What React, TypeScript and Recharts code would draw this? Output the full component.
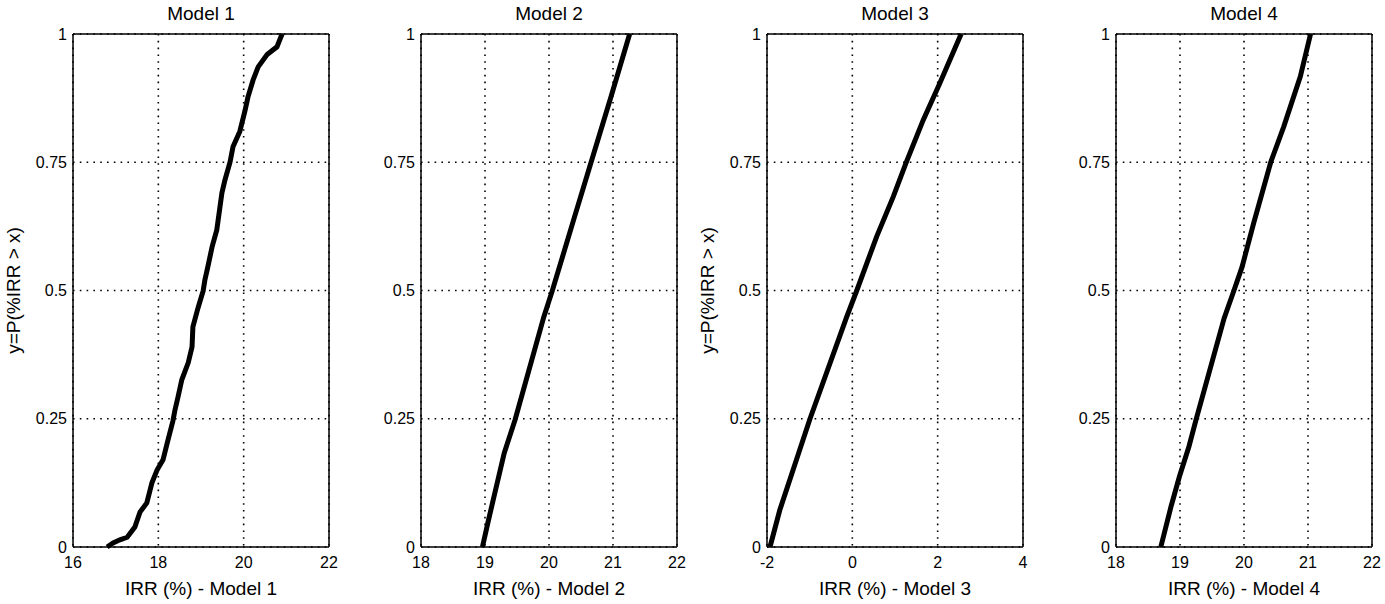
import { LineChart, Line, XAxis, YAxis, CartesianGrid, ReferenceLine } from 'recharts';

// Values (x = IRR %, y = P(%IRR > x))
const model1X = [16.8, 16.94, 17.1, 17.27, 17.45, 17.57, 17.73, 17.85, 17.97, 18.11, 18.23, 18.34, 18.39, 18.46, 18.55, 18.7, 18.79, 18.81, 18.93, 19.05, 19.09, 19.16, 19.26, 19.37, 19.49, 19.56, 19.68, 19.75, 19.91, 20.03, 20.1, 20.22, 20.34, 20.55, 20.78, 20.9];
const model1Y = [0, 0.008, 0.014, 0.019, 0.039, 0.068, 0.086, 0.125, 0.15, 0.17, 0.21, 0.245, 0.267, 0.292, 0.326, 0.359, 0.39, 0.429, 0.466, 0.499, 0.52, 0.546, 0.585, 0.618, 0.69, 0.715, 0.75, 0.78, 0.81, 0.85, 0.877, 0.91, 0.936, 0.96, 0.975, 1];

const model2X = [18.96, 19.05, 19.14, 19.3, 19.47, 19.92, 20.05, 20.4, 20.66, 20.97, 21.26];
const model2Y = [0, 0.05, 0.098, 0.183, 0.248, 0.449, 0.499, 0.644, 0.751, 0.878, 1];

const model3X = [-1.93, -1.7, -1.31, -1.0, -0.13, 0.1, 0.57, 0.96, 1.27, 1.66, 2.05, 2.55];
const model3Y = [0, 0.072, 0.17, 0.248, 0.449, 0.499, 0.605, 0.683, 0.751, 0.832, 0.904, 1];

const model4X = [18.7, 18.86, 18.99, 19.14, 19.25, 19.69, 19.84, 19.97, 20.15, 20.42, 20.62, 20.88, 21.04];
const model4Y = [0, 0.079, 0.137, 0.196, 0.248, 0.446, 0.499, 0.546, 0.631, 0.751, 0.819, 0.917, 1];

const yTicks = [0, 0.25, 0.5, 0.75, 1];
const ticks1 = [16, 18, 20, 22];
const ticks2 = [18, 19, 20, 21, 22];
const ticks3 = [-2, 0, 2, 4];
const ticks4 = [18, 19, 20, 21, 22];

const yTitle = 'y=P(%IRR > x)';

const toRows = (xs: number[], ys: number[]) => xs.map((x, i) => ({ x, y: ys[i] }));

const FONT = '"Liberation Sans", Arial, sans-serif';
const AXIS = { stroke: '#000', strokeWidth: 1.5 };

interface PanelProps {
  title: string;
  xLabel: string;
  xs: number[];
  ys: number[];
  xTicks: number[];
  left: number;
  showYLabel?: boolean;
}

function Panel({ title, xLabel, xs, ys, xTicks, left, showYLabel }: PanelProps) {
  const data = toRows(xs, ys);
  const xMin = xTicks[0];
  const xMax = xTicks[xTicks.length - 1];

  return (
    <div style={{ position: 'absolute', left, top: 0 }}>
      <LineChart
        width={339}
        height={604}
        data={data}
        margin={{ top: 34, right: 10, bottom: 27, left: 33 }}
      >
        <CartesianGrid stroke="#000" strokeWidth={1.6} strokeDasharray="1.6 5.2" />
        <XAxis
          dataKey="x"
          type="number"
          domain={[xMin, xMax]}
          ticks={xTicks}
          height={30}
          tickSize={0}
          tickMargin={10}
          tickLine={false}
          axisLine={AXIS}
          tick={{ fill: '#000', fontSize: 16 }}
          label={(p: any) => (
            <text
              x={p.viewBox.x + p.viewBox.width / 2}
              y={p.viewBox.y + 48}
              textAnchor="middle"
              fontSize={19}
              fill="#000"
            >
              {xLabel}
            </text>
          )}
        />
        <YAxis
          type="number"
          domain={[0, 1]}
          ticks={yTicks}
          width={40}
          tickSize={0}
          tickMargin={6}
          tickLine={false}
          axisLine={AXIS}
          tick={{ fill: '#000', fontSize: 16 }}
          label={
            showYLabel
              ? (p: any) => {
                  const cx = p.viewBox.x - 20;
                  const cy = p.viewBox.y + p.viewBox.height / 2;
                  return (
                    <text
                      x={cx}
                      y={cy}
                      transform={`rotate(-90 ${cx} ${cy})`}
                      textAnchor="middle"
                      dominantBaseline="central"
                      fontSize={19}
                      fill="#000"
                    >
                      {yTitle}
                    </text>
                  );
                }
              : undefined
          }
        />
        {/* top and right sides of the box, title sits on the top side */}
        <ReferenceLine
          y={1}
          stroke="#000"
          strokeWidth={1.5}
          label={(p: any) => (
            <text
              x={p.viewBox.x + p.viewBox.width / 2}
              y={p.viewBox.y - 14}
              textAnchor="middle"
              fontSize={19}
              fill="#000"
            >
              {title}
            </text>
          )}
        />
        <ReferenceLine x={xMax} stroke="#000" strokeWidth={1.5} />
        <Line
          type="linear"
          dataKey="y"
          stroke="#000"
          strokeWidth={5}
          dot={false}
          isAnimationActive={false}
        />
      </LineChart>
    </div>
  );
}

export default function App() {
  return (
    <div
      style={{
        position: 'absolute',
        left: 0,
        top: 0,
        width: 1385,
        height: 604,
        background: '#fff',
        fontFamily: FONT,
        overflow: 'hidden',
      }}
    >
      <Panel title="Model 1" xLabel="IRR (%) - Model 1" xs={model1X} ys={model1Y} xTicks={ticks1} left={0} showYLabel />
      <Panel title="Model 2" xLabel="IRR (%) - Model 2" xs={model2X} ys={model2Y} xTicks={ticks2} left={348} />
      <Panel title="Model 3" xLabel="IRR (%) - Model 3" xs={model3X} ys={model3Y} xTicks={ticks3} left={694} showYLabel />
      <Panel title="Model 4" xLabel="IRR (%) - Model 4" xs={model4X} ys={model4Y} xTicks={ticks4} left={1043} />
    </div>
  );
}
